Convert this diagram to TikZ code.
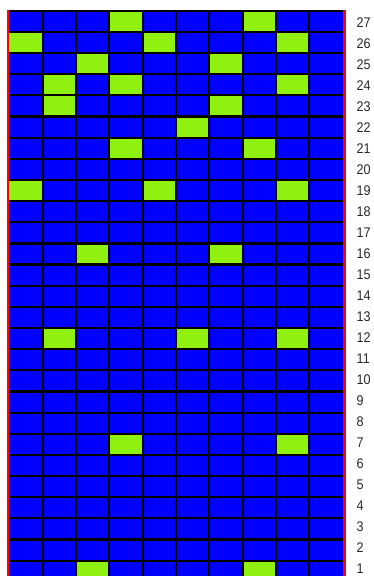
\documentclass[tikz,border=0pt]{standalone}
\usepackage{fontspec}
\setmainfont{Liberation Sans}
\definecolor{cellblue}{RGB}{0,0,255}
\definecolor{cellgreen}{RGB}{144,240,16}
\definecolor{labelgray}{RGB}{40,40,40}
\begin{document}
\begin{tikzpicture}[x=1pt,y=1pt,
  gridline/.style={black,line width=2.2pt},
  edgeline/.style={red,line width=2.6pt},
  rowlabel/.style={anchor=west,inner sep=0pt,text=labelgray,font=\fontsize{14}{14}\selectfont,xscale=0.9}]
\clip (0,0) rectangle (374,576);
\def\L{9.3}
\def\W{33.34}
\def\T{565.2}
\def\H{21.15}
% background cells
\fill[cellblue] (\L,\T-27*\H) rectangle (\L+10*\W,\T);
% green cells (row/column)
\foreach \r/\c in {27/4,27/8,26/1,26/5,26/9,25/3,25/7,24/2,24/4,24/9,23/2,23/7,22/6,21/4,21/8,
                   19/1,19/5,19/9,16/3,16/7,12/2,12/6,12/9,7/4,7/9,1/3,1/8}
  \fill[cellgreen] (\L+\c*\W-\W,\T-28*\H+\r*\H) rectangle (\L+\c*\W,\T-27*\H+\r*\H);
% grid lines
\foreach \i in {1,...,9}
  \draw[gridline] (\L+\i*\W,\T) -- (\L+\i*\W,\T-27*\H);
\foreach \j in {0,...,27}
  \draw[gridline] (\L,\T-\j*\H) -- (\L+10*\W,\T-\j*\H);
% red edges
\draw[edgeline] (8,\T+1) -- (8,\T-27*\H);
\draw[edgeline] (344.3,\T+1) -- (344.3,\T-27*\H);
% row labels
\foreach \r in {1,...,27}
  \node[rowlabel] (lab\r) at (356.5,576-22.3-27*21.02+\r*21.02) {\r};
\end{tikzpicture}
\end{document}
